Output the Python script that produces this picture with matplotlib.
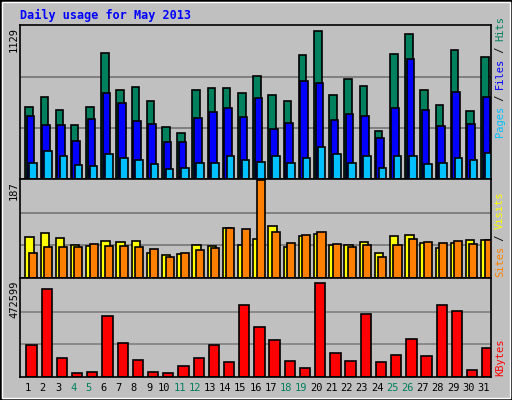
import matplotlib

matplotlib.use("Agg")
import matplotlib.pyplot as plt
import numpy as np
from matplotlib.patches import Rectangle

# values
days = list(range(1, 32))
weekend_days = [4, 5, 11, 12, 18, 19, 25, 26]
hits = [532, 607, 510, 398, 532, 935, 659, 681, 577, 383, 338, 659, 674, 674, 636, 761,
        622, 577, 920, 1099, 622, 741, 689, 353, 927, 1077, 659, 547, 957, 502, 905]
files = [465, 398, 398, 279, 443, 637, 562, 428, 405, 271, 271, 450, 495, 525, 458, 599,
         368, 413, 726, 711, 435, 480, 465, 301, 525, 890, 510, 390, 644, 405, 607]
pages = [122, 204, 167, 107, 99, 182, 152, 137, 114, 77, 85, 122, 122, 174, 144, 129,
         167, 122, 159, 234, 182, 122, 167, 85, 174, 174, 114, 122, 152, 137, 189]
visits = [78, 86, 76, 63, 61, 71, 69, 71, 47, 43, 45, 63, 61, 96, 63, 74,
          100, 59, 80, 84, 63, 63, 69, 47, 80, 82, 67, 57, 67, 72, 72]
sites = [47, 59, 59, 59, 65, 61, 61, 59, 55, 41, 47, 53, 57, 96, 94, 187,
         88, 67, 82, 88, 65, 59, 63, 41, 63, 74, 69, 67, 71, 65, 72]
kbytes = [155000, 424000, 91000, 17000, 22000, 295000, 166000, 81000, 22000, 17000,
          51000, 91000, 155000, 71000, 345000, 240000, 176000, 76000, 41000, 454000,
          116000, 76000, 305000, 71000, 106000, 181000, 101000, 345000, 320000, 36000, 141000]
max_hits, max_sites, max_kbytes = 1129, 187, 472599

BG = "#c0c0c0"
GREEN = "#00805c"
MONO = "DejaVu Sans Mono"

fig = plt.figure(figsize=(5.12, 4.0), dpi=100, facecolor=BG)
W, H = 512, 400


def panel(top, bottom):
    ax = fig.add_axes([20 / W, 1 - bottom / H, 471 / W, (bottom - top) / H])
    ax.set_facecolor(BG)
    ax.set_xlim(0.5, 31.5)
    ax.set_xticks([])
    ax.set_yticks([])
    for s in ax.spines.values():
        s.set_color("black")
        s.set_linewidth(1.2)
    return ax


def draw(ax, values, offset, width, color, top):
    x = np.array(days) - 0.5 + offset
    ax.bar(x, values, width=width, align="edge", color=color,
           edgecolor="black", linewidth=1.2)
    ax.set_ylim(0, top * 1.01)
    for g in (top / 3, 2 * top / 3):
        ax.axhline(g, color="#808080", linewidth=1.2, zorder=0)


ax1 = panel(25, 179)
draw(ax1, hits, 0.35, 0.5, GREEN, max_hits)
draw(ax1, files, 0.45, 0.5, "#0000ff", max_hits)
draw(ax1, pages, 0.6, 0.5, "#00c0ff", max_hits)

ax2 = panel(179, 278)
draw(ax2, visits, 0.35, 0.55, "#ffff00", max_sites)
draw(ax2, sites, 0.58, 0.53, "#ff8000", max_sites)

ax3 = panel(278, 377)
draw(ax3, kbytes, 0.42, 0.68, "#ff0000", max_kbytes)

for i, d in enumerate(days):
    x = (20 + 471 * (i + 0.5) / 31) / W
    fig.text(x, 1 - 388 / H, str(d), ha="center", va="center", fontsize=7.5,
             family=MONO, color=GREEN if d in weekend_days else "black")

fig.text(20 / W, 1 - 15 / H, "Daily usage for May 2013", ha="left", va="center",
         fontsize=8.5, family=MONO, weight="bold", color="#0000ff")

for label, ytop in ((str(max_hits), 27), (str(max_sites), 181), (str(max_kbytes), 281)):
    fig.text(14 / W, 1 - ytop / H, label, rotation=90, ha="center", va="top",
             fontsize=7.5, family=MONO)


def side(parts, ybottom):
    # stacked from the bottom, reading upwards
    y = ybottom
    for txt, col in parts:
        fig.text(500 / W, 1 - y / H, txt, rotation=90, ha="center", va="bottom",
                 fontsize=7.5, family=MONO, color=col)
        y -= 6.0 * len(txt)


side([("Pages", "#00c0ff"), (" / ", "black"), ("Files", "#0000ff"), (" / ", "black"),
      ("Hits", GREEN)], 137)
side([("Sites", "#ff8000"), (" / ", "black"), ("Visits", "#ffff00")], 277)
side([("KBytes", "#ff0000")], 376)

# bevelled outer border
fig.add_artist(Rectangle((0, 0), 1, 1, transform=fig.transFigure, fill=False,
                         edgecolor="black", linewidth=2))
fig.add_artist(Rectangle((2 / W, 2 / H), 1 - 4 / W, 1 - 4 / H, transform=fig.transFigure,
                         fill=False, edgecolor="white", linewidth=1))

fig.savefig("out.png", dpi=100, facecolor=BG)
